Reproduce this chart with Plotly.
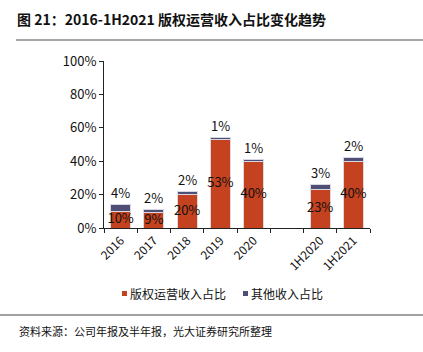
import plotly.graph_objects as go

categories = ["2016", "2017", "2018", "2019", "2020", " ", "1H2020", "1H2021"]
copyright_share = [10, 9, 20, 53, 40, None, 23, 40]
other_share = [4, 2, 2, 1, 1, None, 3, 2]
series_names = ["版权运营收入占比", "其他收入占比"]
y_ticks = [0, 20, 40, 60, 80, 100]
y_tick_labels = ["0%", "20%", "40%", "60%", "80%", "100%"]

RED = "#C4421F"
GRAY = "#4F4F75"
FONT = "Noto Sans CJK SC"

W, H = 423, 352
L, R, T, B = 104, 53, 61, 124
pw, ph = W - L - R, H - T - B


def px(x):
    return (x - L) / pw


def py(y):
    return (H - B - y) / ph


fig = go.Figure()
fig.add_trace(go.Bar(x=categories, y=copyright_share, name=series_names[0],
                     marker=dict(color=RED, line=dict(color="#E0D8D8", width=1)), width=0.6))
fig.add_trace(go.Bar(x=categories, y=other_share, name=series_names[1],
                     marker=dict(color=GRAY, line=dict(color="#D8D8E4", width=1)), width=0.6))

mid_y = [v / 2 if v is not None else None for v in copyright_share]
fig.add_trace(go.Scatter(x=categories, y=mid_y, mode="text",
                         text=[f"{v}%" if v is not None else "" for v in copyright_share],
                         textposition="middle center", showlegend=False,
                         textfont=dict(size=13, color="#111", family=FONT), hoverinfo="skip"))

shapes = [
    dict(type="line", xref="paper", yref="paper", x0=px(16), x1=px(423), y0=py(40), y1=py(40),
         line=dict(color="#888", width=1.5)),
    dict(type="line", xref="paper", yref="paper", x0=px(0), x1=px(423), y0=py(315), y1=py(315),
         line=dict(color="#444", width=1)),
]
annotations = [
    dict(text="资料来源：公司年报及半年报，光大证券研究所整理", xref="paper", yref="paper",
         x=px(17), y=py(331), xanchor="left", yanchor="middle", showarrow=False,
         font=dict(size=11, color="#111", family=FONT)),
]

# labels for the "other" segment, above the stacked total (x = category index)
for i, (a, b) in enumerate(zip(copyright_share, other_share)):
    if a is None:
        continue
    annotations.append(dict(text=f"{b}%", x=i, y=a + b, xref="x", yref="y",
                            yshift=12, yanchor="middle", showarrow=False,
                            font=dict(size=13, color="#111", family=FONT)))

# manual legend (small square swatches + labels)
legend_items = [(series_names[0], RED, 122), (series_names[1], GRAY, 243)]
for name, color, x0 in legend_items:
    shapes.append(dict(type="rect", xref="paper", yref="paper",
                       x0=px(x0), x1=px(x0 + 5), y0=py(291), y1=py(296),
                       fillcolor=color, line=dict(width=0)))
    annotations.append(dict(text=name, xref="paper", yref="paper", x=px(x0 + 6), y=py(293),
                            xanchor="left", yanchor="middle", showarrow=False,
                            font=dict(size=12, color="#111", family=FONT)))

fig.update_layout(
    width=W, height=H, barmode="stack",
    margin=dict(l=L, r=R, t=T, b=B),
    paper_bgcolor="white", plot_bgcolor="white",
    font=dict(family=FONT, size=13, color="#111"),
    title=dict(text="<b>图 21：2016-1H2021 版权运营收入占比变化趋势</b>",
               x=17 / W, xanchor="left", y=1 - 20 / H, yanchor="middle",
               font=dict(size=14, color="#111", family=FONT)),
    xaxis=dict(type="category", categoryorder="array", categoryarray=categories,
               range=[-0.5, len(categories) - 0.5], tickangle=-45,
               showline=True, linecolor="#222", linewidth=1,
               ticks="outside", tickson="boundaries", ticklen=4, tickcolor="#222",
               showgrid=False, tickfont=dict(size=12)),
    yaxis=dict(range=[0, 100], tickvals=y_ticks, ticktext=y_tick_labels,
               showline=True, linecolor="#222", linewidth=1,
               ticks="outside", ticklen=4, tickcolor="#222",
               showgrid=False, zeroline=False, tickfont=dict(size=13)),
    showlegend=False,
    shapes=shapes,
    annotations=annotations,
)

fig.write_html("out.html")
